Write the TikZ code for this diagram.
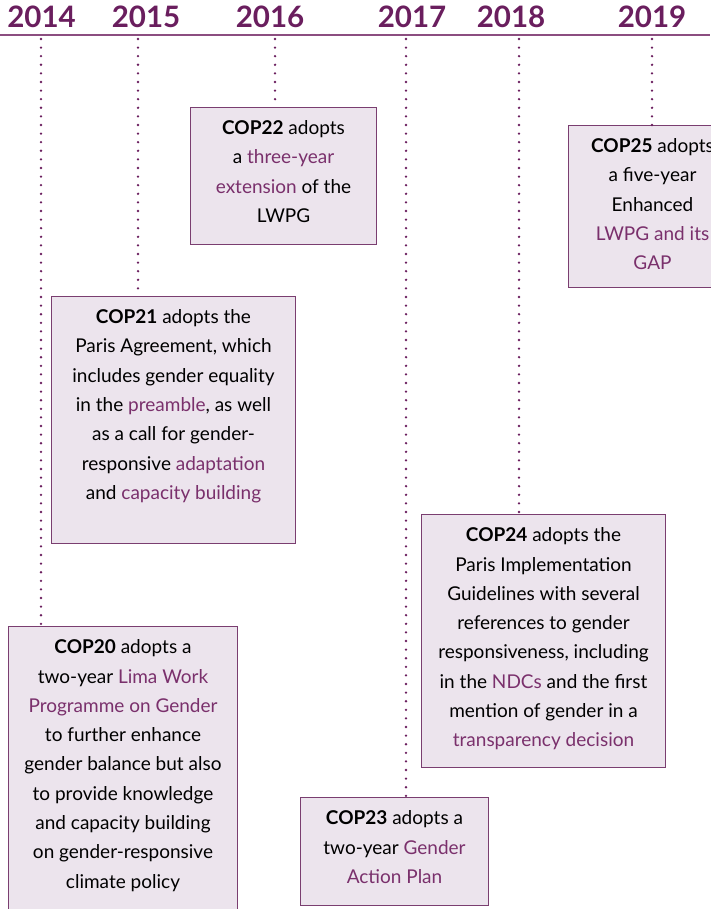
\documentclass[tikz,border=0pt]{standalone}
\usepackage{fontspec}
\setmainfont{Lato}
\usepackage{xcolor}
\usepackage{tikz}
\usetikzlibrary{positioning}
\usetikzlibrary{calc}

\definecolor{yearpurple}{RGB}{106,30,94}
\definecolor{linkpurple}{RGB}{122,48,108}
\definecolor{axispurple}{RGB}{140,78,128}
\definecolor{boxfill}{RGB}{236,228,237}
\definecolor{boxline}{RGB}{122,62,112}

\newcommand{\keyterm}[1]{\textcolor{linkpurple}{#1}}

\begin{document}
\begin{tikzpicture}[x=1pt,y=-1pt]
    % Define the styles of the timeline
    \tikzset{
        year label/.style={font=\fontsize{29.5}{29.5}\selectfont\bfseries, text=yearpurple, anchor=base, inner sep=0pt},
        event box/.style={draw=boxline, fill=boxfill, line width=1pt, anchor=north west, inner sep=0pt},
        event text/.style={font=\fontsize{19}{29.3}\selectfont, align=center, anchor=north, inner sep=0pt, yshift=-13.5pt},
        year link/.style={yearpurple, line width=2.6pt, line cap=round, dash pattern=on 0pt off 8.6pt},
    }

    % Fix the page size
    \useasboundingbox (0,0) rectangle (710,909);

    % Draw the time axis and the years
    \draw[axispurple, line width=1.5pt] (0,35) -- (710,35);
    \node[year label] (y2014) at (41.5,28) {2014};
    \node[year label] (y2015) at (146,28) {2015};
    \node[year label] (y2016) at (270,28) {2016};
    \node[year label] (y2017) at (412,28) {2017};
    \node[year label] (y2018) at (511,28) {2018};
    \node[year label] (y2019) at (652,28) {2019};

    % Define the ticks on the axis
    \coordinate (t2014) at (41,39);
    \coordinate (t2015) at (138,39);
    \coordinate (t2016) at (275,39);
    \coordinate (t2017) at (406,39);
    \coordinate (t2018) at (519,39);
    \coordinate (t2019) at (652,39);

    % Draw the boxes of the events
    \node[event box, minimum width=229pt, minimum height=290pt] (cop20) at (8,626) {};
    \node[event box, minimum width=244pt, minimum height=247pt] (cop21) at (51,296) {};
    \node[event box, minimum width=186pt, minimum height=137pt] (cop22) at (190,107) {};
    \node[event box, minimum width=188pt, minimum height=108pt] (cop23) at (300,797) {};
    \node[event box, minimum width=244pt, minimum height=253pt] (cop24) at (421,514) {};
    \node[event box, minimum width=168pt, minimum height=162pt] (cop25) at (568,125) {};

    % Draw the dotted links from the years to the boxes
    \draw[year link] (t2014) -- (t2014 |- cop20.north);
    \draw[year link] (t2015) -- (t2015 |- cop21.north);
    \draw[year link] (t2016) -- (t2016 |- cop22.north);
    \draw[year link] (t2017) -- (t2017 |- cop23.north);
    \draw[year link] (t2018) -- (t2018 |- cop24.north);
    \draw[year link] (t2019) -- (t2019 |- cop25.north);

    % Write the texts of the events
    \node[event text] (cop20text) at (cop20.north) {{\bfseries COP20} adopts a\\two-year \keyterm{Lima Work}\\\keyterm{Programme on Gender}\\to further enhance\\gender balance but also\\to provide knowledge\\and capacity building\\on gender-responsive\\climate policy};
    \node[event text] (cop21text) at (cop21.north) {{\bfseries COP21} adopts the\\Paris Agreement, which\\includes gender equality\\in the \keyterm{preamble}, as well\\as a call for gender-\\responsive \keyterm{adaptation}\\and \keyterm{capacity building}};
    \node[event text] (cop22text) at (cop22.north) {{\bfseries COP22} adopts\\a \keyterm{three-year}\\\keyterm{extension} of the\\LWPG};
    \node[event text] (cop23text) at (cop23.north) {{\bfseries COP23} adopts a\\two-year \keyterm{Gender}\\\keyterm{Action Plan}};
    \node[event text] (cop24text) at (cop24.north) {{\bfseries COP24} adopts the\\Paris Implementation\\Guidelines with several\\references to gender\\responsiveness, including\\in the \keyterm{NDCs} and the first\\mention of gender in a\\\keyterm{transparency decision}};
    \node[event text] (cop25text) at (cop25.north) {{\bfseries COP25} adopts\\a five-year\\Enhanced\\\keyterm{LWPG and its}\\\keyterm{GAP}};
\end{tikzpicture}
\end{document}
